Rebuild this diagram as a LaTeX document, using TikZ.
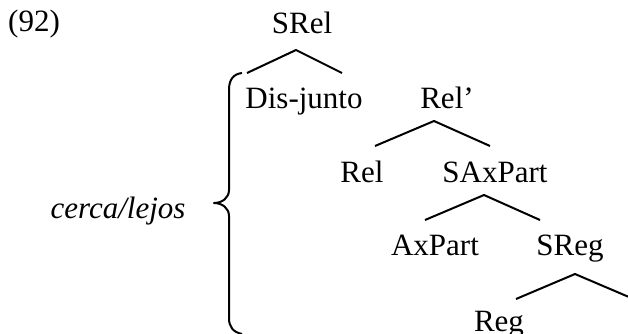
\documentclass[tikz,border=0pt]{standalone}
\usepackage{fontspec}
\setmainfont{Liberation Serif}
\usetikzlibrary{calc}
\tikzset{
  lab/.style={inner sep=0pt, anchor=base, font=\fontsize{31}{37}\selectfont},
  branch/.style={line width=2pt},
  bracepath/.style={line width=2pt, line join=round}
}
\begin{document}
\begin{tikzpicture}[x=1pt,y=-1pt]
\clip (0,0) rectangle (628,333);
\node[lab, anchor=base west] (ex) at (8,31) {(92)};
\node[lab] (srel) at (302,33) {SRel};
\node[lab] (dis) at (304,108) {Dis-junto};
\node[lab] (relp) at (447,108) {Rel’};
\node[lab] (rel) at (362,182) {Rel};
\node[lab] (sax) at (495,182) {SAxPart};
\node[lab] (ax) at (435,255) {AxPart};
\node[lab] (sreg) at (570,255) {SReg};
\node[lab] (reg) at (499,331) {Reg};
\node[lab, font=\fontsize{31}{37}\selectfont\itshape] (cl) at (118,218) {cerca/lejos};
\coordinate (sregR) at (650,306);
% branches
\draw[branch] ($(dis.base)+(-57,-35)$) -- ($(srel.base)+(-6,17)$) -- ($(relp.base)+(-105,-35)$);
\draw[branch] ($(rel.base)+(13,-36)$) -- ($(relp.base)+(-13,13)$) -- ($(sax.base)+(-5,-36)$);
\draw[branch] ($(ax.base)+(-10,-35)$) -- ($(sax.base)+(-11,13)$) -- ($(sreg.base)+(-30,-35)$);
\draw[branch] ($(reg.base)+(17,-32)$) -- ($(sreg.base)+(5,19)$) -- (sregR);
% brace
\draw[bracepath] (242,73) .. controls (233,74) and (229,80) .. (229,90) -- (229,190)
  .. controls (229,198) and (222,203) .. (214,203)
  .. controls (222,203) and (229,208) .. (229,216) -- (229,318)
  .. controls (229,327) and (233,332) .. (242,334);
\end{tikzpicture}
\end{document}
